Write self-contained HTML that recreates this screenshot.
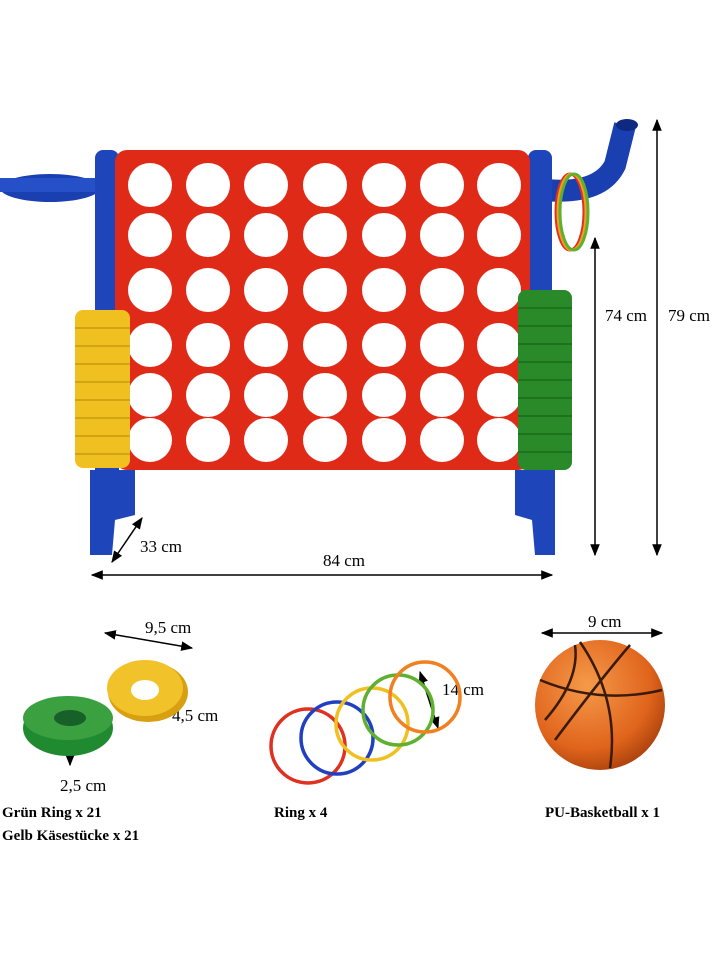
<!DOCTYPE html>
<html><head><meta charset="utf-8"><style>
html,body{margin:0;padding:0;background:#fff;}
svg{display:block;}
text{font-family:"Liberation Serif",serif;}
</style></head><body>
<svg width="720" height="960" viewBox="0 0 720 960" xmlns="http://www.w3.org/2000/svg">
<defs>
<radialGradient id="ball" cx="40%" cy="35%" r="70%"><stop offset="0" stop-color="#f59a4a"/><stop offset="0.7" stop-color="#e0641c"/><stop offset="1" stop-color="#a8400c"/></radialGradient>
<marker id="ah" viewBox="0 0 10 10" refX="9" refY="5" markerWidth="8" markerHeight="8" orient="auto-start-reverse"><path d="M0 1 L10 5 L0 9 Z" fill="#000"/></marker>
</defs>
<!-- left basket -->
<ellipse cx="50" cy="188" rx="50" ry="14" fill="#1a3fb0"/>
<rect x="0" y="178" width="100" height="14" fill="#2550c8"/>
<!-- right pipe -->
<path d="M545 190 Q600 195 615 165 L625 125" stroke="#1a3fb0" stroke-width="22" fill="none"/>
<ellipse cx="627" cy="125" rx="11" ry="6" fill="#0e2a80"/>
<!-- hanging rings -->
<ellipse cx="570" cy="212" rx="14" ry="38" fill="none" stroke="#e03020" stroke-width="3"/>
<ellipse cx="572" cy="212" rx="14" ry="38" fill="none" stroke="#f0a020" stroke-width="3"/>
<ellipse cx="574" cy="212" rx="14" ry="38" fill="none" stroke="#60b030" stroke-width="3"/>
<!-- posts -->
<rect x="95" y="150" width="24" height="330" rx="8" fill="#1f45bb"/>
<rect x="528" y="150" width="24" height="330" rx="8" fill="#1f45bb"/>
<!-- feet -->
<path d="M90 470 L135 470 L135 515 L115 520 L112 555 L90 555 Z" fill="#1f45bb"/>
<path d="M515 470 L555 470 L555 555 L535 555 L532 520 L515 515 Z" fill="#1f45bb"/>
<!-- red grid -->
<rect x="115" y="150" width="415" height="320" rx="12" fill="#e02a18"/>
<g fill="#fff">
<g id="row">
<circle cx="150" cy="0" r="22"/><circle cx="208" cy="0" r="22"/><circle cx="266" cy="0" r="22"/><circle cx="325" cy="0" r="22"/><circle cx="384" cy="0" r="22"/><circle cx="442" cy="0" r="22"/><circle cx="499" cy="0" r="22"/>
</g>
<use href="#row" y="185"/><use href="#row" y="235"/><use href="#row" y="290"/><use href="#row" y="345"/><use href="#row" y="395"/><use href="#row" y="440"/>
</g>
<!-- yellow stack -->
<rect x="75" y="310" width="55" height="158" rx="8" fill="#f0c020"/>
<g stroke="#c89a10" stroke-width="1.5">
<line x1="75" y1="328" x2="130" y2="328"/><line x1="75" y1="346" x2="130" y2="346"/><line x1="75" y1="364" x2="130" y2="364"/><line x1="75" y1="382" x2="130" y2="382"/><line x1="75" y1="400" x2="130" y2="400"/><line x1="75" y1="418" x2="130" y2="418"/><line x1="75" y1="436" x2="130" y2="436"/><line x1="75" y1="454" x2="130" y2="454"/>
</g>
<!-- green stack -->
<rect x="518" y="290" width="54" height="180" rx="8" fill="#2a8a2a"/>
<g stroke="#1a6a1a" stroke-width="1.5">
<line x1="518" y1="308" x2="572" y2="308"/><line x1="518" y1="326" x2="572" y2="326"/><line x1="518" y1="344" x2="572" y2="344"/><line x1="518" y1="362" x2="572" y2="362"/><line x1="518" y1="380" x2="572" y2="380"/><line x1="518" y1="398" x2="572" y2="398"/><line x1="518" y1="416" x2="572" y2="416"/><line x1="518" y1="434" x2="572" y2="434"/><line x1="518" y1="452" x2="572" y2="452"/>
</g>
<!-- dimensions -->
<g stroke="#000" stroke-width="1.5" fill="none" marker-start="url(#ah)" marker-end="url(#ah)">
<line x1="595" y1="238" x2="595" y2="555"/>
<line x1="657" y1="120" x2="657" y2="555"/>
<line x1="92" y1="575" x2="552" y2="575"/>
<line x1="112" y1="562" x2="142" y2="518"/>
<line x1="105" y1="633" x2="192" y2="648"/>
<line x1="542" y1="633" x2="662" y2="633"/>
<line x1="130" y1="690" x2="158" y2="700"/>
<line x1="70" y1="745" x2="70" y2="765"/>
<line x1="420" y1="672" x2="438" y2="728"/>
</g>
<g font-size="17" fill="#000">
<text x="605" y="321">74 cm</text>
<text x="668" y="321">79 cm</text>
<text x="323" y="566">84 cm</text>
<text x="140" y="552">33 cm</text>
<text x="145" y="633">9,5 cm</text>
<text x="172" y="721">4,5 cm</text>
<text x="60" y="791">2,5 cm</text>
<text x="442" y="695">14 cm</text>
<text x="588" y="627">9 cm</text>
</g>
<!-- pieces -->
<ellipse cx="68" cy="728" rx="45" ry="28" fill="#1f8a30"/>
<ellipse cx="68" cy="718" rx="45" ry="22" fill="#3aa040"/>
<ellipse cx="70" cy="718" rx="16" ry="8" fill="#17602a"/>
<ellipse cx="148" cy="692" rx="40" ry="30" fill="#d8a010"/>
<ellipse cx="145" cy="688" rx="38" ry="28" fill="#f2c22a"/>
<ellipse cx="145" cy="690" rx="14" ry="10" fill="#fff"/>
<!-- rings -->
<g fill="none" stroke-width="3.5">
<circle cx="308" cy="746" r="37" stroke="#e03020"/>
<circle cx="337" cy="738" r="36" stroke="#2040c0"/>
<circle cx="372" cy="724" r="36" stroke="#f0c020"/>
<circle cx="398" cy="710" r="35" stroke="#60b030"/>
<circle cx="425" cy="697" r="35" stroke="#f08020"/>
</g>
<!-- ball -->
<circle cx="600" cy="705" r="65" fill="url(#ball)"/>
<g stroke="#3a1a08" stroke-width="2.5" fill="none">
<path d="M540 680 Q600 705 662 690"/>
<path d="M555 740 Q600 680 630 645"/>
<path d="M580 642 Q620 700 610 768"/>
<path d="M545 720 Q580 680 575 645"/>
</g>
<g font-size="15" font-weight="bold" fill="#000">
<text x="2" y="817">Grün Ring x 21</text>
<text x="2" y="840">Gelb Käsestücke x 21</text>
<text x="274" y="817">Ring x 4</text>
<text x="545" y="817">PU-Basketball x 1</text>
</g>
</svg>
</body></html>
